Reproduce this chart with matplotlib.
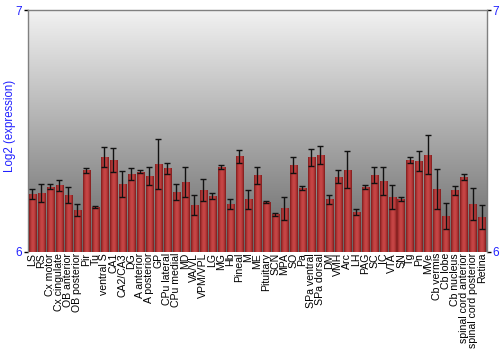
import numpy as np
import matplotlib
matplotlib.use("Agg")
import matplotlib.pyplot as plt
from matplotlib.colors import LinearSegmentedColormap

plt.rcParams['font.family'] = ['Liberation Sans', 'DejaVu Sans']

labels = ["LS", "RS", "Cx motor", "Cx cingulate", "OB anterior", "OB posterior", "Pir", "Tu",
          "ventral S", "CA1", "CA2/CA3", "DG", "A anterior", "A posterior", "GP", "CPu lateral",
          "CPu medial", "MD", "VA/VL", "VPM/VPL", "LG", "MG", "Hb", "Pineal", "M", "ME",
          "Pituitary", "SCN", "MPA", "SO", "Pa", "SPa ventral", "SPa dorsal", "DM", "VMH", "Arc",
          "LH", "PAG", "SC", "IC", "VTA", "SN", "Tg", "Pn", "MVe", "Cb vermis", "Cb lobe",
          "Cb nucleus", "spinal cord anterior", "spinal cord posterior", "Retina"]

values = [6.237, 6.243, 6.268, 6.275, 6.234, 6.172, 6.337, 6.183,
          6.393, 6.379, 6.280, 6.321, 6.330, 6.314, 6.362, 6.344,
          6.248, 6.288, 6.194, 6.255, 6.230, 6.350, 6.198, 6.394, 6.217, 6.315,
          6.204, 6.154, 6.179, 6.358, 6.262, 6.390, 6.400, 6.216, 6.310, 6.339,
          6.164, 6.267, 6.317, 6.292, 6.224, 6.217, 6.379, 6.375, 6.400, 6.258, 6.147,
          6.253, 6.308, 6.197, 6.142]

errors = [0.021, 0.037, 0.010, 0.023, 0.035, 0.024, 0.010, 0.004,
          0.041, 0.048, 0.055, 0.024, 0.006, 0.037, 0.104, 0.021,
          0.033, 0.062, 0.041, 0.044, 0.011, 0.010, 0.021, 0.026, 0.039, 0.037,
          0.004, 0.006, 0.048, 0.034, 0.008, 0.036, 0.038, 0.019, 0.027, 0.078,
          0.011, 0.007, 0.035, 0.059, 0.050, 0.008, 0.011, 0.040, 0.081, 0.083, 0.052,
          0.018, 0.012, 0.068, 0.050]

ymin, ymax = 6, 7
yticks = [6, 7]

fig = plt.figure(figsize=(5, 3.5), dpi=100)
ax = fig.add_axes([0.056, 0.2814, 0.917, 0.6900])

x = np.arange(len(labels))
ax.set_xlim(-0.5, len(labels) - 0.5)
ax.set_ylim(ymin, ymax)

# background gradient
bg = LinearSegmentedColormap.from_list("bg", ["#666666", "#f2f2f2"])
grad = np.linspace(0, 1, 256).reshape(-1, 1)
ax.imshow(grad, cmap=bg, aspect='auto', extent=[0, 1, 0, 1], origin='lower',
          transform=ax.transAxes, zorder=0)

bars = ax.bar(x, [v - ymin for v in values], bottom=ymin, width=0.8,
              color="#b53535", edgecolor='none', zorder=2)

barcmap = LinearSegmentedColormap.from_list("bar", ["#7e1c1c", "#b83a3a", "#c94848", "#b83a3a", "#7e1c1c"])
hgrad = np.linspace(0, 1, 64).reshape(1, -1)
for b in bars:
    x0 = b.get_x()
    w = b.get_width()
    y0 = b.get_y()
    h = b.get_height()
    im = ax.imshow(hgrad, cmap=barcmap, aspect='auto',
                   extent=[x0, x0 + w, y0, y0 + h], zorder=3)
    im.set_clip_path(b)

ax.errorbar(x, values, yerr=errors, fmt='none', ecolor='#111111', elinewidth=1.0,
            capsize=2.2, capthick=1.0, zorder=4)

ax.set_xlim(-0.5, len(labels) - 0.5)
ax.set_ylim(ymin, ymax)

ax.set_xticks(x)
ax.set_xticklabels(labels, rotation=90, fontsize=7.6)
ax.tick_params(axis='x', length=0, pad=1)

ax.set_yticks(yticks)
ax.set_yticklabels([str(t) for t in yticks])
ax.tick_params(axis='y', which='both', left=True, right=True, labelleft=True, labelright=True,
               length=3, width=1, color='black', labelcolor='#2020ff', labelsize=8.5, pad=1)

ax.set_ylabel("Log2 (expression)", color='#2020ff', fontsize=8.3, labelpad=0)
ax.yaxis.set_label_coords(-0.027, 0.52)

for s in ['top', 'left', 'right']:
    ax.spines[s].set_color('#808080')
    ax.spines[s].set_linewidth(1)
ax.spines['bottom'].set_visible(False)

fig.savefig("out.png", dpi=100)
